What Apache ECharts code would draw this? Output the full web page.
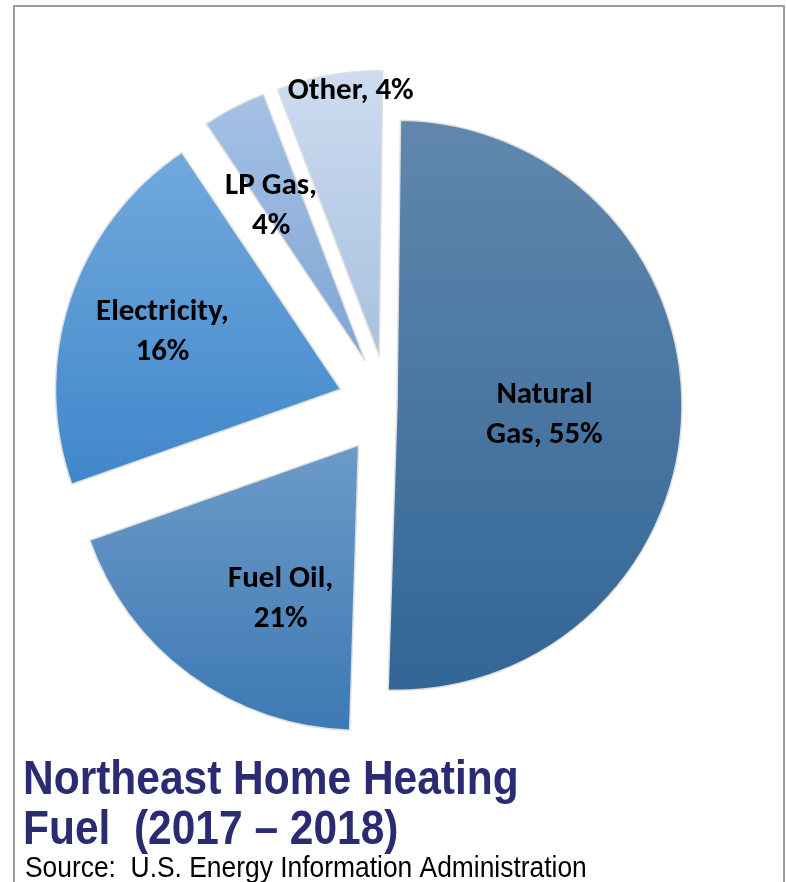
<!DOCTYPE html>
<html>
<head>
<meta charset="utf-8">
<script src="https://cdn.jsdelivr.net/npm/echarts@6/dist/echarts.min.js"></script>
<style>
  html, body { margin: 0; padding: 0; background: #ffffff; }
  #chart { width: 786px; height: 882px; }
</style>
</head>
<body>
<div id="chart"></div>
<script>
// ---- data ----
const categories = ['Natural Gas', 'Fuel Oil', 'Electricity', 'LP Gas', 'Other'];
// slice sizes as drawn (share of the full circle, %)
const sliceShares = [50.3, 19.1, 21, 3.6, 6];
// percentages as printed on the labels
const labelPercents = [55, 21, 16, 4, 4];
// label wording as printed
const labelNames = ['Natural\nGas', 'Fuel Oil', 'Electricity', 'LP Gas', 'Other'];
const labelSeparators = [', ', ',\n', ',\n', ',\n', ', '];
const titleLines = ['Northeast Home Heating', 'Fuel  (2017 \u2013 2018)'];
const sourceText = 'Source:  U.S. Energy Information Administration';

// ---- styles ----
const gradientStops = [
  ['#6187ad', '#326696'],
  ['#6c9bc7', '#3d79b4'],
  ['#71a9dc', '#3f87cb'],
  ['#a6c1e4', '#7ea5d6'],
  ['#cddcf0', '#a8c0df']
];
const labelNudge = [[2, 7], [8, 36], [-40, -11], [-27, -25], [-3, -121]];
const explodeGroup = [0, 1, 1, 1, 1]; // which series draws each slice
const groupOffsets = [9, 50];

function grad(i) {
  return new echarts.graphic.LinearGradient(0, 0, 0, 1, [
    { offset: 0, color: gradientStops[i][0] },
    { offset: 1, color: gradientStops[i][1] }
  ]);
}

function buildSeries(group) {
  return {
    type: 'pie',
    center: [388, 405],
    radius: [0, 285],
    startAngle: 89.3,
    clockwise: true,
    selectedMode: 'multiple',
    selectedOffset: groupOffsets[group],
    silent: true,
    animation: false,
    avoidLabelOverlap: false,
    emphasis: { disabled: true },
    labelLine: { show: false },
    label: {
      show: true,
      position: 'inside',
      color: '#000000',
      fontFamily: 'Carlito, Lato, sans-serif',
      fontWeight: 'bold',
      fontSize: 31,
      lineHeight: 40,
      align: 'center',
      formatter: function (p) {
        const i = p.dataIndex;
        return labelNames[i] + labelSeparators[i] + labelPercents[i] + '%';
      }
    },
    labelLayout: function (p) {
      const n = labelNudge[p.dataIndex];
      return { dx: n[0], dy: n[1] };
    },
    data: categories.map(function (name, i) {
      const mine = explodeGroup[i] === group;
      return {
        name: name,
        value: sliceShares[i],
        selected: mine,
        itemStyle: mine
          ? { color: grad(i), borderColor: '#dedede', borderWidth: 1.5 }
          : { color: 'rgba(0,0,0,0)', borderWidth: 0 },
        label: { show: mine }
      };
    })
  };
}

const chart = echarts.init(document.getElementById('chart'), null, { renderer: 'canvas' });
chart.setOption({
  backgroundColor: '#ffffff',
  series: [buildSeries(0), buildSeries(1)],
  graphic: [
    {
      type: 'rect', silent: true, z: 0,
      shape: { x: 14, y: 6, width: 770, height: 900 },
      style: { fill: 'none', stroke: '#9c9c9c', lineWidth: 2 }
    },
    {
      type: 'text', silent: true, x: 23, y: 781, scaleX: 0.885, originX: 0,
      style: {
        text: titleLines[0], fill: '#2b2b73',
        font: 'bold 48px "Liberation Sans", Arial, sans-serif',
        verticalAlign: 'middle', align: 'left'
      }
    },
    {
      type: 'text', silent: true, x: 23, y: 831, scaleX: 0.885, originX: 0,
      style: {
        text: titleLines[1], fill: '#2b2b73',
        font: 'bold 48px "Liberation Sans", Arial, sans-serif',
        verticalAlign: 'middle', align: 'left'
      }
    },
    {
      type: 'text', silent: true, x: 25, y: 869, scaleX: 0.91, originX: 0,
      style: {
        text: sourceText, fill: '#000000',
        font: '29px "Liberation Sans", Arial, sans-serif',
        verticalAlign: 'middle', align: 'left'
      }
    }
  ]
});
</script>
</body>
</html>
